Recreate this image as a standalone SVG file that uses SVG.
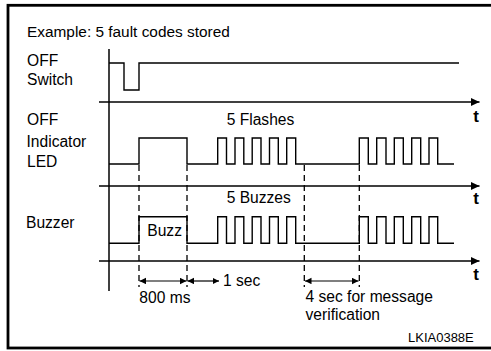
<svg xmlns="http://www.w3.org/2000/svg" width="491" height="351" viewBox="0 0 491 351">
<defs>
<style>
.frame{fill:none;stroke:#000;stroke-width:2.8}
.ax{fill:none;stroke:#000;stroke-width:1.5}
.wave{fill:none;stroke:#000;stroke-width:1.4;stroke-linejoin:miter}
.dash{fill:none;stroke:#000;stroke-width:1.3;stroke-dasharray:6 4}
.dim{fill:none;stroke:#000;stroke-width:1.2}
text{font-family:"Liberation Sans",Arial,sans-serif;fill:#000}
.lbl{font-size:15.6px}
.ttl{font-size:15.4px}
.t{font-size:17px;font-weight:bold}
.code{font-size:13px}
</style>
<marker id="axarrow" markerWidth="9" markerHeight="9" refX="8.5" refY="4" orient="auto" markerUnits="userSpaceOnUse">
<path d="M0,0 L8.5,4 L0,8 z" fill="#000"/>
</marker>
<marker id="dh" markerWidth="7" markerHeight="7" refX="6.5" refY="3.2" orient="auto-start-reverse" markerUnits="userSpaceOnUse">
<path d="M0,0 L6.5,3.2 L0,6.4 z" fill="#000"/>
</marker>
</defs>
<rect class="frame" x="8" y="5.3" width="490" height="342.7" fill="#fff"/>
<g id="title"><text class="ttl" x="27" y="36.7">Example: 5 fault codes stored</text></g>
<g id="axes">
<line class="ax" x1="109" y1="49" x2="109" y2="291"/>
<line class="ax" x1="99" y1="102" x2="479.5" y2="102" marker-end="url(#axarrow)"/>
<line class="ax" x1="99" y1="186" x2="479.5" y2="186" marker-end="url(#axarrow)"/>
<line class="ax" x1="99" y1="261" x2="479.5" y2="261" marker-end="url(#axarrow)"/>
<text class="t" x="476" y="122" text-anchor="middle">t</text>
<text class="t" x="476" y="203.5" text-anchor="middle">t</text>
<text class="t" x="476" y="280" text-anchor="middle">t</text>
</g>
<g id="switch">
<text class="lbl" x="27" y="65.5">OFF</text>
<text class="lbl" x="27" y="85">Switch</text>
<path class="wave" d="M109,63 H124 V90 H139 V63 H459"/>
</g>
<g id="led">
<text class="lbl" x="27" y="125">OFF</text>
<text class="lbl" x="26.5" y="146.5">Indicator</text>
<text class="lbl" x="27" y="166.5">LED</text>
<text class="lbl" x="226.7" y="125">5 Flashes</text>
<path class="wave" d="M109,164 H139 V138 H187 V164 H217.7 V138 H226.5 V164 H235 V138 H243.8 V164 H252.2 V138 H261 V164 H269.5 V138 H278.3 V164 H286.7 V138 H295.7 V164 H359.3 V138 H368.3 V164 H376.7 V138 H386 V164 H394.3 V138 H403.3 V164 H411.7 V138 H420.7 V164 H429 V138 H437.7 V164 H454"/>
</g>
<g id="buzzer">
<text class="lbl" x="26" y="228.3">Buzzer</text>
<text class="lbl" x="226.7" y="203.3">5 Buzzes</text>
<text class="lbl" x="147.3" y="236">Buzz</text>
<path class="wave" d="M109,243.3 H139 V216.7 H187 V243.3 H217.7 V216.7 H226.5 V243.3 H235 V216.7 H243.8 V243.3 H252.2 V216.7 H261 V243.3 H269.5 V216.7 H278.3 V243.3 H286.7 V216.7 H295.7 V243.3 H359.3 V216.7 H368.3 V243.3 H376.7 V216.7 H386 V243.3 H394.3 V216.7 H403.3 V243.3 H411.7 V216.7 H420.7 V243.3 H429 V216.7 H437.7 V243.3 H454"/>
</g>
<g id="connectors">
<line class="dash" x1="139" y1="165" x2="139" y2="287"/>
<line class="dash" x1="187" y1="165" x2="187" y2="287"/>
<line class="dash" x1="304.3" y1="165" x2="304.3" y2="287"/>
<line class="dash" x1="359.3" y1="165" x2="359.3" y2="287"/>
<line class="dim" x1="139.5" y1="281" x2="186.5" y2="281" marker-start="url(#dh)" marker-end="url(#dh)"/>
<line class="dim" x1="187.5" y1="281" x2="219" y2="281" marker-start="url(#dh)" marker-end="url(#dh)"/>
<line class="dim" x1="305" y1="281" x2="358.5" y2="281" marker-start="url(#dh)" marker-end="url(#dh)"/>
</g>
<g id="dim-labels">
<text class="lbl" x="139.3" y="303">800 ms</text>
<text class="lbl" x="223" y="285.5">1 sec</text>
<text class="lbl" x="305.5" y="301.5">4 sec for message</text>
<text class="lbl" x="305.5" y="320">verification</text>
<text class="code" x="408" y="341.5">LKIA0388E</text>
</g>
</svg>
